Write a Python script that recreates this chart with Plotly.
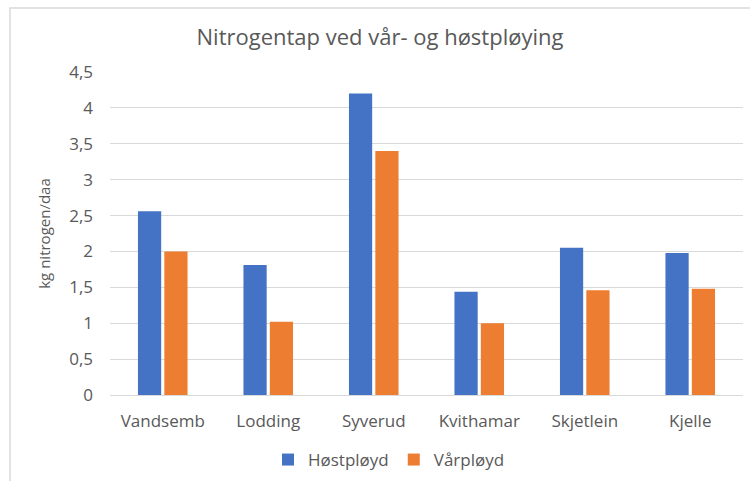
import plotly.graph_objects as go

categories = ["Vandsemb", "Lodding", "Syverud", "Kvithamar", "Skjetlein", "Kjelle"]
host_values = [2.56, 1.81, 4.2, 1.44, 2.05, 1.98]
var_values = [2.0, 1.02, 3.4, 1.0, 1.46, 1.48]
y_ticks = [0, 0.5, 1, 1.5, 2, 2.5, 3, 3.5, 4, 4.5]
y_ticktext = ["0", "0,5", "1", "1,5", "2", "2,5", "3", "3,5", "4", "4,5"]

FONT = "'Open Sans', sans-serif"
GRAY = "#595959"

fig = go.Figure()
fig.add_trace(go.Bar(x=categories, y=host_values, name="Høstpløyd",
                     marker=dict(color="#4472C4", line=dict(width=0))))
fig.add_trace(go.Bar(x=categories, y=var_values, name="Vårpløyd",
                     marker=dict(color="#ED7D31", line=dict(width=0))))

fig.update_layout(
    width=750, height=481,
    margin=dict(l=110, r=7, t=72, b=86, autoexpand=False),
    paper_bgcolor="white", plot_bgcolor="white",
    barmode="group", bargap=0.5, bargroupgap=0.12,
    font=dict(family=FONT, color=GRAY, size=17),
    title=dict(text="Nitrogentap ved vår- og høstpløying", x=380 / 750, xanchor="center",
               y=1 - 37 / 481, yanchor="middle",
               font=dict(family=FONT, size=22, color=GRAY)),
    legend=dict(orientation="h", x=(389 - 110) / 633, xanchor="center",
                y=-(460 - 395) / 323, yanchor="middle",
                font=dict(size=17, color=GRAY), itemwidth=30, traceorder="normal"),
    showlegend=True,
)
fig.update_yaxes(range=[0, 4.5], tickvals=y_ticks, ticktext=y_ticktext,
                 showgrid=True, gridcolor="#d9d9d9", gridwidth=1,
                 zeroline=True, zerolinecolor="#d9d9d9", zerolinewidth=1,
                 showline=False, ticks="", ticklabelstandoff=16,
                 tickfont=dict(size=17, color=GRAY),
                 title=dict(text="kg nitrogen/daa", standoff=14,
                            font=dict(size=15, color=GRAY)))
fig.update_xaxes(showline=False, ticks="", ticklabelstandoff=14,
                 tickfont=dict(size=17, color=GRAY))

fig.add_shape(type="rect", xref="paper", yref="paper",
              x0=(10 - 110) / 633, x1=1.2, y0=-0.3, y1=1 + (72 - 8) / 323,
              line=dict(color="#d9d9d9", width=1.5), layer="below")

fig.write_html("out.html", config={"displayModeBar": False},
               post_script="document.body.style.margin='0';")
